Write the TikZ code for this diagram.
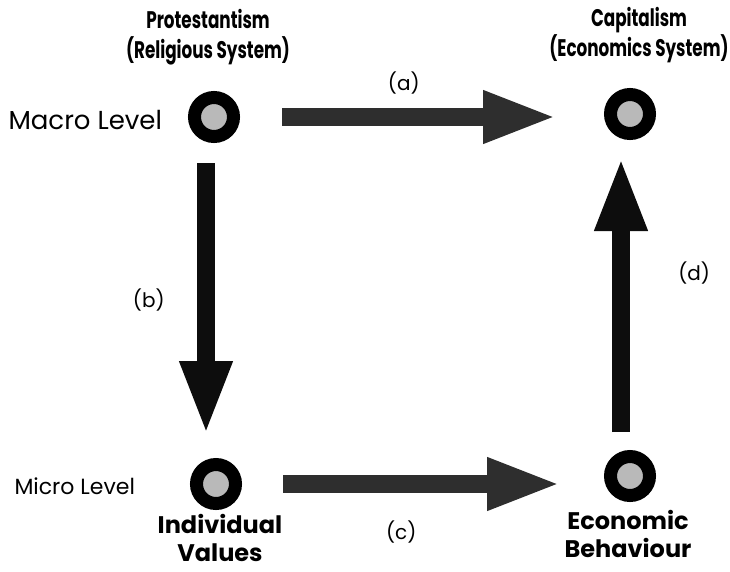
\documentclass[tikz,border=0pt]{standalone}
\usepackage{fontspec}
\setmainfont{Poppins}
\newfontfamily\narrowfont[FakeStretch=0.7]{Poppins}
\usetikzlibrary{arrows.meta}

\begin{document}
\begin{tikzpicture}[x=1pt, y=-1pt,
    hub/.style={circle, draw=black, fill=gray!55, line width=13pt, minimum size=39pt, inner sep=0pt},
    title/.style={font=\narrowfont\fontsize{24}{30}\selectfont\bfseries, align=center},
    subject/.style={font=\fontsize{24}{28}\selectfont\bfseries, align=center},
    level/.style={font=\fontsize{26}{28}\selectfont, anchor=west},
    link/.style={line width=18pt, -{Triangle[length=74pt, width=48pt]}},
    tag/.style={font=\fontsize{20}{22}\selectfont, black}]
    \useasboundingbox (0,0) rectangle (730,571);
    % the four circles
    \node[hub] (prot) at (214,117) {};
    \node[hub] (capi) at (630,114) {};
    \node[hub] (indiv) at (216,484) {};
    \node[hub] (behav) at (630,476) {};
    % texts
    \node[title] (protname) at (208,37) {Protestantism\\(Religious System)};
    \node[title] (capiname) at (639,35) {Capitalism\\(Economics System)};
    \node[subject] (indivname) at (220,538) {Individual\\Values};
    \node[subject] (behavname) at (628,534) {Economic\\Behaviour};
    \node[level] (macro) at (5,120) {Macro Level};
    \node[level, font=\fontsize{22}{24}\selectfont] (micro) at (11,486) {Micro Level};
    % arrows
    \draw[link, black!82, shorten <=42pt, shorten >=47pt] (prot.east) -- (prot.east -| capi.west)
        node[tag, pos=0.45, above=10pt] (a) {(a)};
    \draw[link, black!95, shorten <=20pt, shorten >=23pt] ([xshift=-8pt]prot.south) -- ([xshift=-8pt]prot.south |- indiv.north)
        node[tag, midway, left=29pt] (b) {(b)};
    \draw[link, black!82, shorten <=41pt, shorten >=43pt] (indiv.east) -- (indiv.east -| behav.west)
        node[tag, pos=0.44, below=24pt] (c) {(c)};
    \draw[link, black!95, shorten <=18pt, shorten >=17pt] ([xshift=-9pt]behav.north) -- ([xshift=-9pt]behav.north |- capi.south)
        node[tag, pos=0.57, right=45pt] (d) {(d)};
\end{tikzpicture}
\end{document}
